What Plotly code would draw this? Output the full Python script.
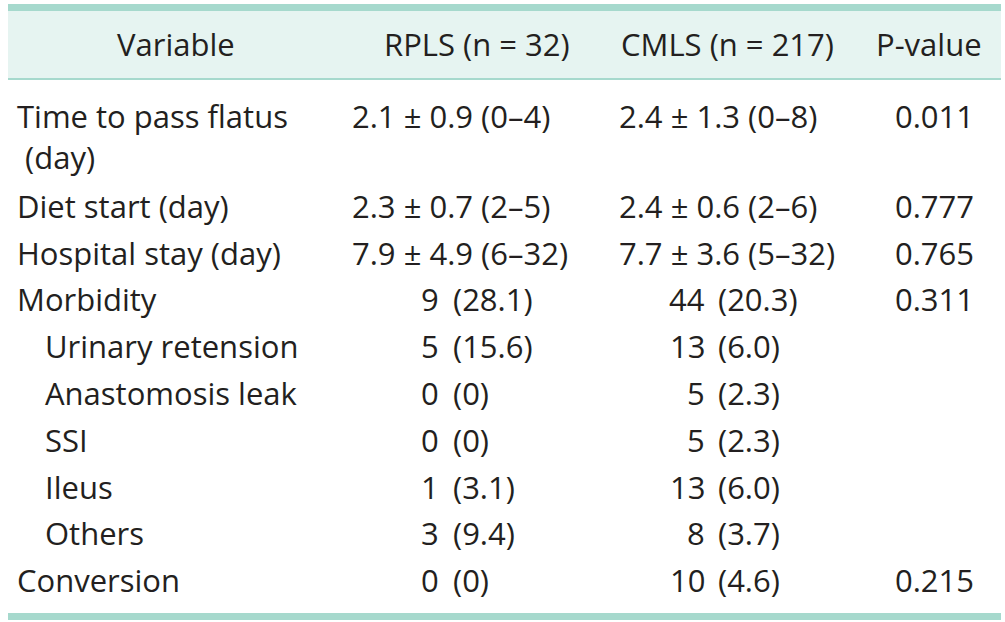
import plotly.graph_objects as go

# ---- data ----
headers = ["Variable", "RPLS (n = 32)", "CMLS (n = 217)", "P-value"]
variables = ["Time to pass flatus\n (day)", "Diet start (day)", "Hospital stay (day)", "Morbidity",
             "Urinary retension", "Anastomosis leak", "SSI", "Ileus", "Others", "Conversion"]
indent = [False, False, False, False, True, True, True, True, True, False]
rpls_mean = ["2.1 ± 0.9 (0–4)", "2.3 ± 0.7 (2–5)", "7.9 ± 4.9 (6–32)", None, None, None, None, None, None, None]
cmls_mean = ["2.4 ± 1.3 (0–8)", "2.4 ± 0.6 (2–6)", "7.7 ± 3.6 (5–32)", None, None, None, None, None, None, None]
rpls_n = [None, None, None, 9, 5, 0, 0, 1, 3, 0]
rpls_pct = [None, None, None, "28.1", "15.6", "0", "0", "3.1", "9.4", "0"]
cmls_n = [None, None, None, 44, 13, 5, 5, 13, 8, 10]
cmls_pct = [None, None, None, "20.3", "6.0", "2.3", "2.3", "6.0", "3.7", "4.6"]
pvalues = ["0.011", "0.777", "0.765", "0.311", None, None, None, None, None, "0.215"]

# ---- style ----
W, H = 1005, 622
FONT = "Open Sans"
FS = 31
TXT = "#231f20"
TEAL = "#a6d9cd"
HEAD_BG = "#e6f4f1"
LEFT, RIGHT = 8, 1001

x_var, x_ind = 15, 43
x_rmean, x_rcnt_r, x_rpar = 350, 441, 451
x_cmean, x_ccnt_r, x_cpar = 617, 707, 716
x_p = 893
hdr_x = [176, 477, 727, 929]

fig = go.Figure()
fig.add_trace(go.Scatter(x=[0, W], y=[0, H], mode="markers", marker=dict(opacity=0),
                         hoverinfo="skip", showlegend=False))

# borders / header band
fig.add_shape(type="rect", x0=LEFT, x1=RIGHT, y0=11, y1=78, fillcolor=HEAD_BG, line_width=0, layer="below")
fig.add_shape(type="rect", x0=LEFT, x1=RIGHT, y0=4, y1=11, fillcolor=TEAL, line_width=0)
fig.add_shape(type="rect", x0=LEFT, x1=RIGHT, y0=78, y1=80, fillcolor=TEAL, line_width=0)
fig.add_shape(type="rect", x0=LEFT, x1=RIGHT, y0=613, y1=620, fillcolor=TEAL, line_width=0)


def txt(x, y, s, anchor="left"):
    fig.add_annotation(x=x, y=y, text=s, showarrow=False, xanchor=anchor, yanchor="middle",
                       font=dict(family=FONT, size=FS, color=TXT), xref="x", yref="y")


for hx, h in zip(hdr_x, headers):
    txt(hx, 44, h, "center")

y = 116
ROW_GAP, LINE_GAP, EXTRA = 46.8, 41, 43
for i, v in enumerate(variables):
    lines = v.split("\n")
    for k, ln in enumerate(lines):
        txt(x_ind if indent[i] else x_var, y + k * LINE_GAP, ln.replace(" ", "\u00a0") if k else ln)
    if rpls_mean[i]:
        txt(x_rmean, y, rpls_mean[i])
    if cmls_mean[i]:
        txt(x_cmean, y, cmls_mean[i])
    if rpls_n[i] is not None:
        txt(x_rcnt_r, y, str(rpls_n[i]), "right")
        txt(x_rpar, y, f"({rpls_pct[i]})")
    if cmls_n[i] is not None:
        txt(x_ccnt_r, y, str(cmls_n[i]), "right")
        txt(x_cpar, y, f"({cmls_pct[i]})")
    if pvalues[i]:
        txt(x_p, y, pvalues[i])
    y += ROW_GAP + (len(lines) - 1) * EXTRA

fig.update_layout(width=W, height=H, margin=dict(l=0, r=0, t=0, b=0),
                  paper_bgcolor="white", plot_bgcolor="white",
                  xaxis=dict(range=[0, W], visible=False, fixedrange=True),
                  yaxis=dict(range=[H, 0], visible=False, fixedrange=True),
                  showlegend=False)
fig.write_html("out.html", config={"displayModeBar": False},
               post_script="document.body.style.margin='0';document.body.style.overflow='hidden';")
